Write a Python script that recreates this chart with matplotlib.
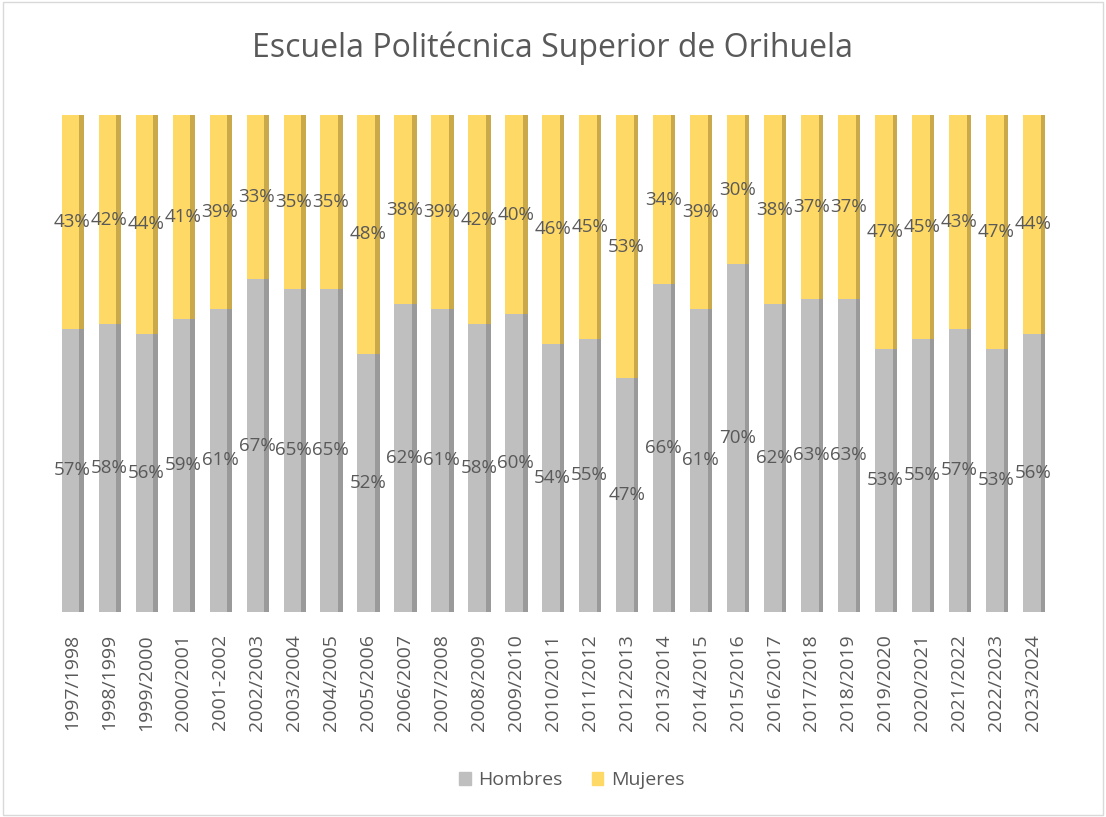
import matplotlib.pyplot as plt
from matplotlib.patches import Rectangle
import numpy as np

YEARS = ["1997/1998", "1998/1999", "1999/2000", "2000/2001", "2001-2002",
         "2002/2003", "2003/2004", "2004/2005", "2005/2006", "2006/2007",
         "2007/2008", "2008/2009", "2009/2010", "2010/2011", "2011/2012",
         "2012/2013", "2013/2014", "2014/2015", "2015/2016", "2016/2017",
         "2017/2018", "2018/2019", "2019/2020", "2020/2021", "2021/2022",
         "2022/2023", "2023/2024"]
HOMBRES = [57, 58, 56, 59, 61, 67, 65, 65, 52, 62, 61, 58, 60, 54, 55,
           47, 66, 61, 70, 62, 63, 63, 53, 55, 57, 53, 56]
MUJERES = [43, 42, 44, 41, 39, 33, 35, 35, 48, 38, 39, 42, 40, 46, 45,
           53, 34, 39, 30, 38, 37, 37, 47, 45, 43, 47, 44]

GRAY, GRAY_SIDE = "#BFBFBF", "#9A9A9A"
GOLD, GOLD_SIDE = "#FFD966", "#C9A94A"
TEXT = "#595959"

plt.rcParams['font.family'] = ['Open Sans', 'DejaVu Sans']

fig = plt.figure(figsize=(11.06, 8.17), dpi=100)
fig.patches.append(Rectangle((0.003, 0.003), 0.994, 0.994, transform=fig.transFigure,
                             fill=False, edgecolor="#D9D9D9", linewidth=1))
ax = fig.add_axes([0.0484, 0.251, 0.9026, 0.608])

x = np.arange(len(YEARS))
h = np.array(HOMBRES)
m = np.array(MUJERES)
w = 0.48
ax.bar(x - 0.04, h, width=w, color=GRAY, linewidth=0)
ax.bar(x - 0.04, m, width=w, bottom=h, color=GOLD, linewidth=0)
# side faces to mimic the 3D look
ax.bar(x + 0.26, h, width=0.12, color=GRAY_SIDE, linewidth=0)
ax.bar(x + 0.26, m, width=0.12, bottom=h, color=GOLD_SIDE, linewidth=0)

for i in range(len(YEARS)):
    ax.text(x[i], h[i] / 2, f"{h[i]}%", ha="center", va="center",
            fontsize=13.5, color=TEXT)
    ax.text(x[i], h[i] + m[i] / 2, f"{m[i]}%", ha="center", va="center",
            fontsize=13.5, color=TEXT)

ax.set_xlim(-0.5, len(YEARS) - 0.5)
ax.set_ylim(0, 100)
ax.set_xticks(x)
ax.set_xticklabels(YEARS, rotation=90, fontsize=14, color=TEXT)
ax.tick_params(axis="x", length=0, pad=16)
ax.set_yticks([])
for s in ax.spines.values():
    s.set_visible(False)

fig.text(0.5, 0.941, "Escuela Politécnica Superior de Orihuela", ha="center",
         va="center", fontsize=23, color=TEXT)

handles = [Rectangle((0, 0), 1, 1, color=GRAY), Rectangle((0, 0), 1, 1, color=GOLD)]
fig.legend(handles, ["Hombres", "Mujeres"], loc="center", bbox_to_anchor=(0.517, 0.045),
           ncol=2, frameon=False, fontsize=14, handlelength=0.6, handleheight=0.6,
           handletextpad=0.4, columnspacing=1.5, labelcolor=TEXT)

fig.savefig("out.png", dpi=100, facecolor="white")
